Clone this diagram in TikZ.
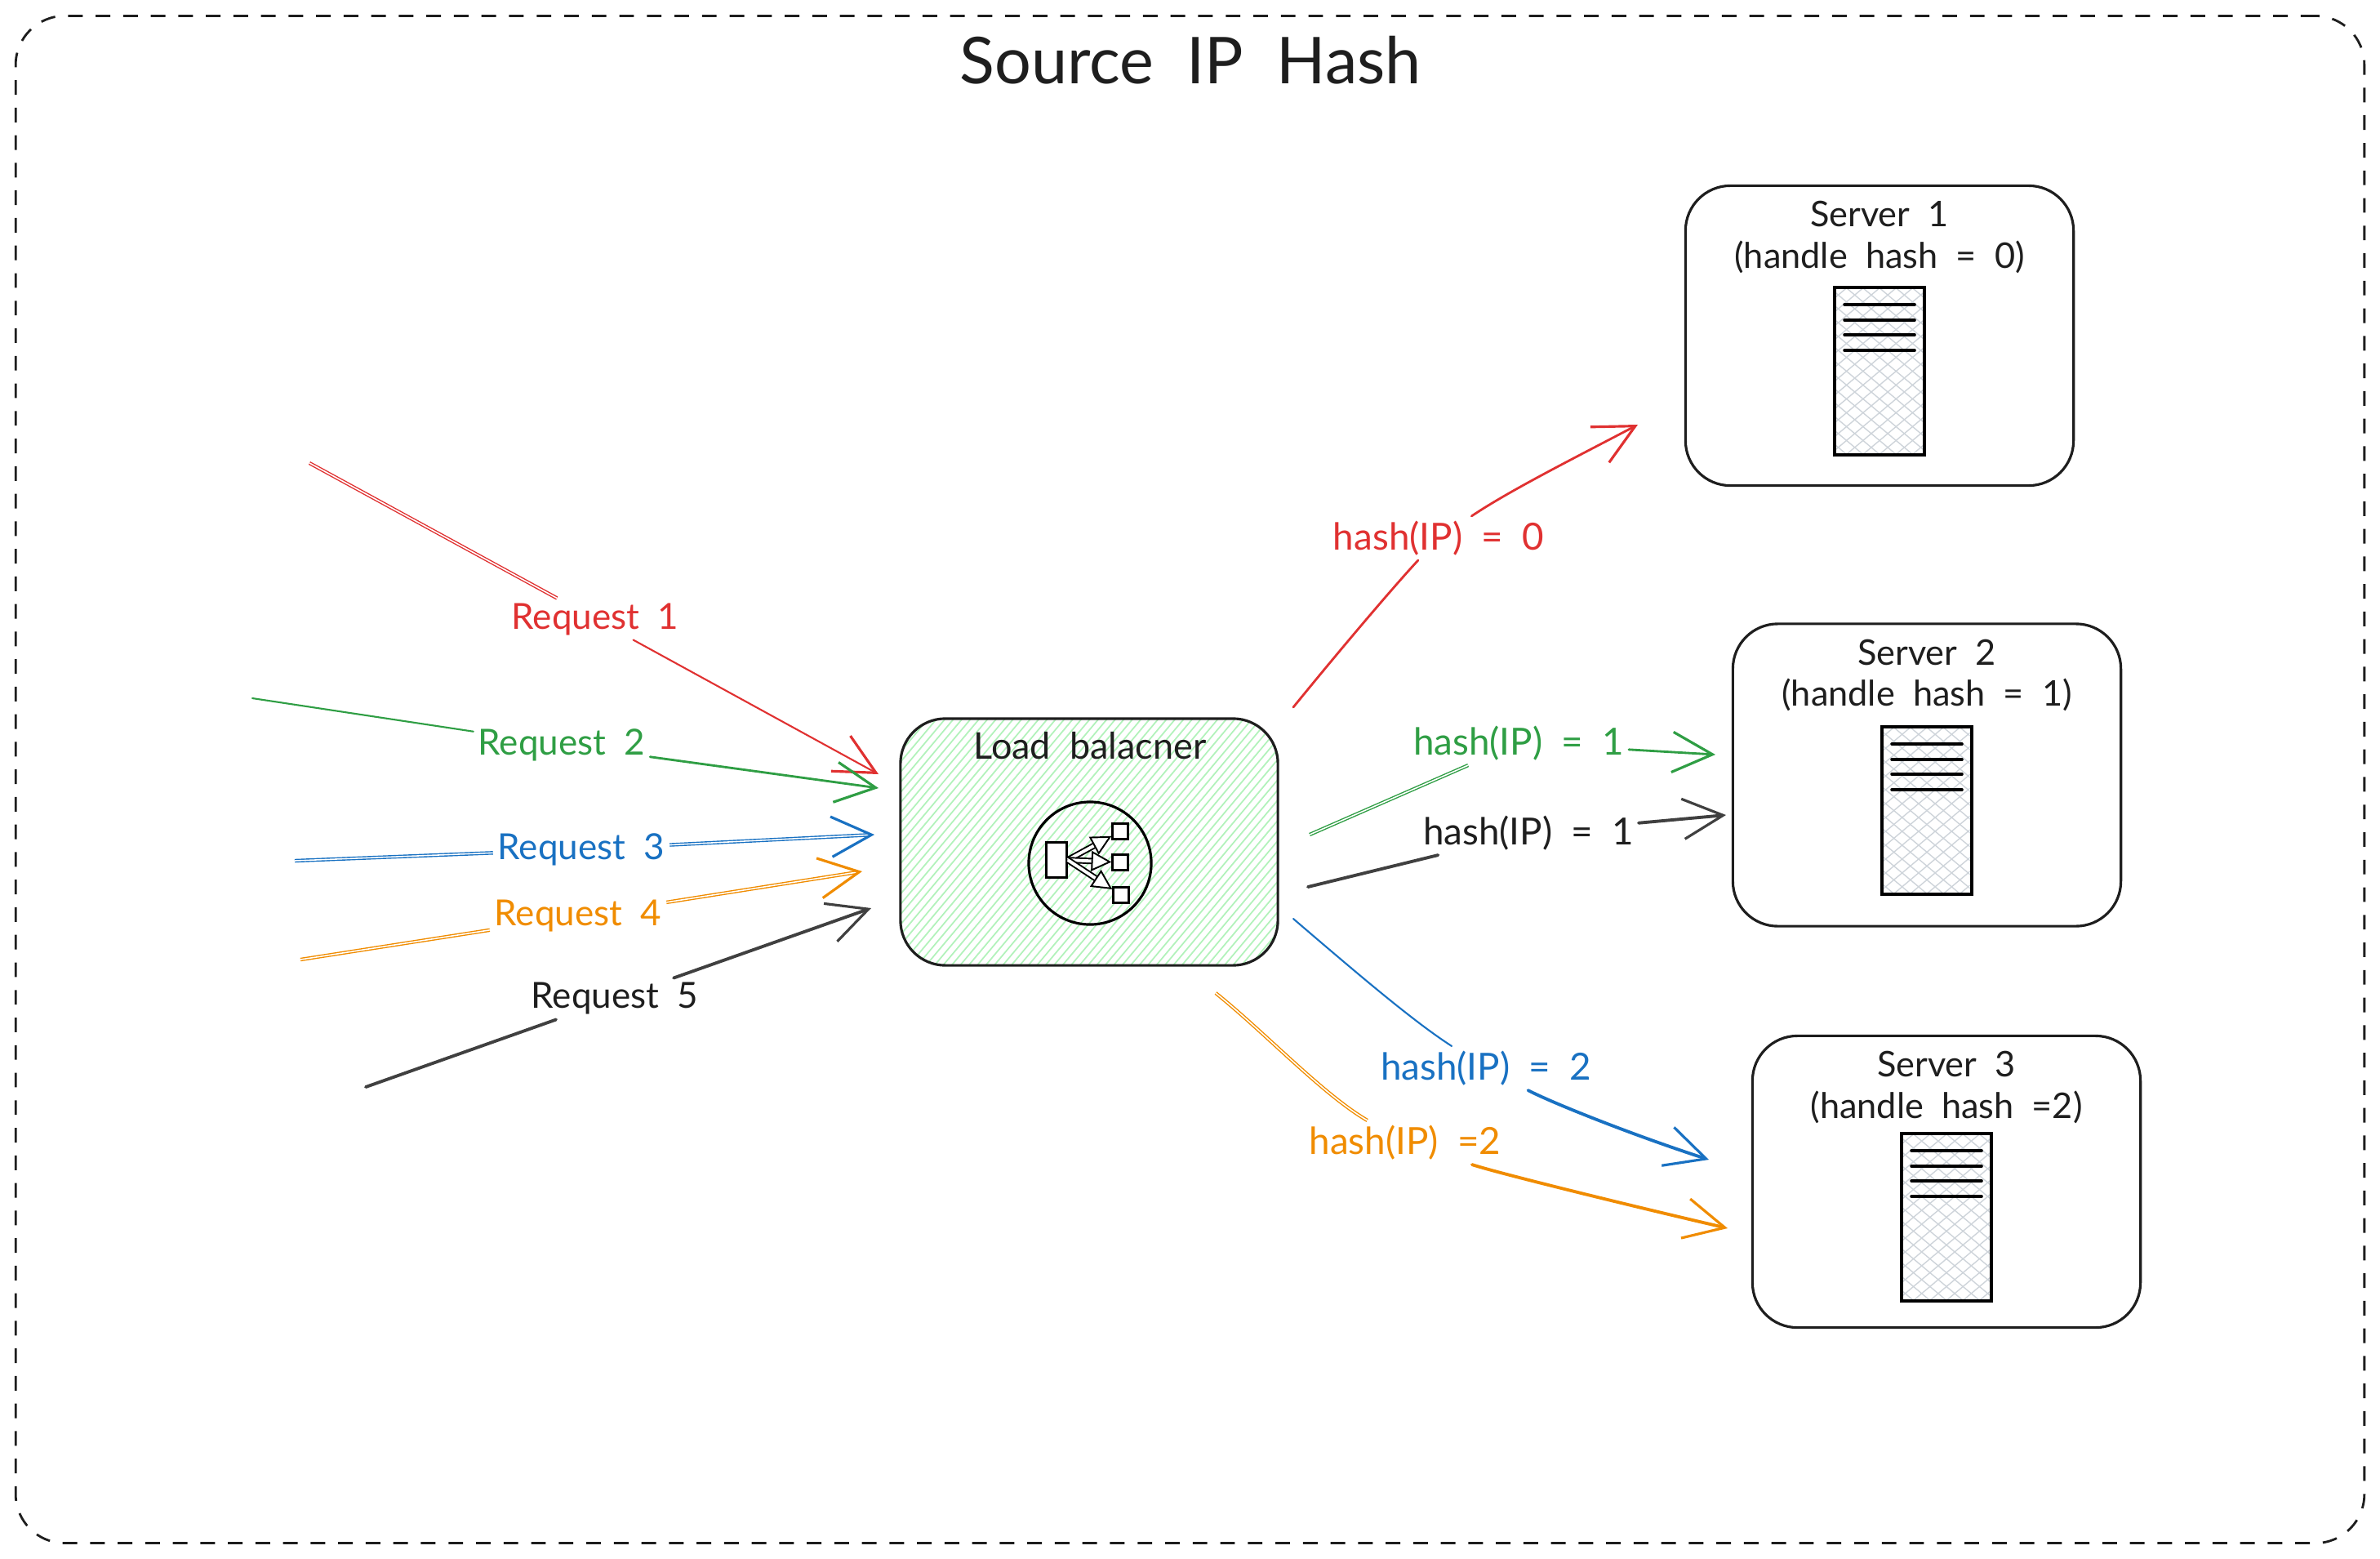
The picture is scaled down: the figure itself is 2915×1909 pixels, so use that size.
\documentclass[tikz,border=0pt]{standalone}
\usepackage{fontspec}
\setmainfont{Lato}[WordSpace=2]
\usetikzlibrary{arrows.meta}
\definecolor{inkred}{HTML}{E03131}
\definecolor{inkgreen}{HTML}{2F9E44}
\definecolor{inkblue}{HTML}{1971C2}
\definecolor{inkorange}{HTML}{F08C00}
\definecolor{inkblack}{HTML}{1E1E1E}
\definecolor{hatchgreen}{HTML}{B2F2BB}
\definecolor{hatchgrey}{HTML}{CED4DA}
% colour, line width, angle, spacing, half length
\newcommand{\hatchrow}[5]{%
  \draw[#1,line width=#2,shift={(path picture bounding box.center)}]
    ({\k*#4*sin(#3)-#5*cos(#3)},{\k*#4*cos(#3)+#5*sin(#3)}) --
    ({\k*#4*sin(#3)+#5*cos(#3)},{\k*#4*cos(#3)-#5*sin(#3)});}
\tikzset{%
  flowline/.style={line width=0.8pt,line cap=round},
  flowthin/.style={line width=0.6pt,line cap=round},
  flowheavy/.style={line width=1.1pt,line cap=round},
  flowdouble/.style={line width=0.4pt,double=white,double distance=0.45pt},
  flowtip/.style={-{Straight Barb[length=14pt,width=14pt,line width=0.9pt]}},
  flowlabel/.style={font=\fontsize{12.5}{15}\selectfont,inner sep=1.5pt,yshift=-0.03cm},
  hashlabel/.style={flowlabel,font=\fontsize{13}{15}\selectfont},
  sketchbox/.style={draw=inkblack,line width=0.9pt,rounded corners=0.55cm},
  servertext/.style={font=\fontsize{12.3}{14.3}\selectfont,align=center,text=inkblack,anchor=north,inner sep=0pt},
  rackbox/.style={draw=black,line width=1.1pt,minimum width=1.1cm,minimum height=2.05cm,
    path picture={%
      \foreach \k in {-14,...,14} {
        \hatchrow{hatchgrey}{0.4pt}{40}{13}{200}
        \hatchrow{hatchgrey}{0.4pt}{-40}{13}{200}
      }}},
  rackline/.style={black,line width=1pt,line cap=round},
  lbbox/.style={sketchbox,minimum width=4.62cm,minimum height=3.02cm,
    path picture={%
      \foreach \k in {-40,...,40} {
        \hatchrow{hatchgreen}{0.5pt}{50}{8}{350}
      }}},
  iconbox/.style={draw=black,fill=white,line width=0.7pt,inner sep=0pt},
  iconarrow/.style={draw=black,line width=0.55pt,double=white,double distance=1.1pt,
    -{Triangle[open,fill=white,length=7pt,width=7pt,line width=0.55pt]}},
}
\begin{document}
\begin{tikzpicture}[x=0.01cm,y=-0.01cm]
  \useasboundingbox (0,0) rectangle (2915,1909);
  % outer frame and title
  \node[draw=inkblack,line width=0.8pt,dash pattern=on 5.1pt off 4.5pt,rounded corners=0.6cm,
        minimum width=28.75cm,minimum height=18.69cm] (frame) at (1457.5,954.5) {};
  \node[font=\fontsize{22.5}{26}\selectfont,text=inkblack] (title) at (1458,74) {Source IP Hash};
  % load balancer
  \node[lbbox] (lb) at (1334,1031) {};
  \node[font=\fontsize{12.8}{15}\selectfont,text=inkblack] (lbtext) at (1335,913) {Load balacner};
  \node[draw=black,circle,line width=0.9pt,minimum size=1.5cm,inner sep=0pt] (lbicon) at (1335,1057) {};
  \node[iconbox,minimum width=0.25cm,minimum height=0.43cm] (lbmain) at (1294,1053) {};
  \node[iconbox,minimum size=0.19cm] (lbsqa) at (1372,1018) {};
  \node[iconbox,minimum size=0.19cm] (lbsqb) at (1372,1056) {};
  \node[iconbox,minimum size=0.19cm] (lbsqc) at (1373,1096) {};
  \draw[iconarrow] (lbmain.east) -- (lbsqa);
  \draw[iconarrow] (lbmain.east) -- (lbsqb);
  \draw[iconarrow] (lbmain.east) -- (lbsqc);
  % servers
  \foreach \srv/\cx/\cy/\srvh/\txt in {a/2302/411/3.67/{Server 1\\(handle hash = 0)},
                                       b/2360/949/3.70/{Server 2\\(handle hash = 1)},
                                       c/2384/1447/3.57/{Server 3\\(handle hash =2)}} {
    \node[sketchbox,minimum width=4.75cm,minimum height=\srvh cm] (srv\srv) at (\cx,\cy) {};
    \node[servertext] (srv\srv text) at ([yshift=-0.2cm]srv\srv.north) {\txt};
    \node[rackbox] (rack\srv) at ([yshift=-0.435cm]srv\srv.center) {};
    \foreach \dy in {23,42,60,79}
      \draw[rackline] ([xshift=-0.43cm,yshift=-\dy*0.01cm]rack\srv.north) -- ([xshift=0.43cm,yshift=-\dy*0.01cm]rack\srv.north);
  }
  % free ends of the arrows
  \coordinate (reqa) at (379,567);   \coordinate (tipa) at (1076,948);
  \coordinate (reqb) at (309,855);   \coordinate (tipb) at (1076,965);
  \coordinate (reqc) at (361,1054);  \coordinate (tipc) at (1071,1022);
  \coordinate (reqd) at (368,1175);  \coordinate (tipd) at (1056,1067);
  \coordinate (reqe) at (448,1331);  \coordinate (tipe) at (1067,1112);
  \coordinate (outa) at (1584,866);  \coordinate (enda) at (2006,520);
  \coordinate (outb) at (1604,1022); \coordinate (endb) at (2101,924);
  \coordinate (outc) at (1602,1086); \coordinate (endc) at (2114,998);
  \coordinate (outd) at (1584,1125); \coordinate (endd) at (2093,1420);
  \coordinate (oute) at (1489,1216); \coordinate (ende) at (2116,1504);
  % labels
  \node[flowlabel,text=inkred] (lreqa) at (729,755) {Request 1};
  \node[flowlabel,text=inkgreen] (lreqb) at (688,909) {Request 2};
  \node[flowlabel,text=inkblue] (lreqc) at (712,1037) {Request 3};
  \node[flowlabel,text=inkorange] (lreqd) at (708,1119) {Request 4};
  \node[flowlabel,text=inkblack] (lreqe) at (753,1220) {Request 5};
  \node[hashlabel,text=inkred] (louta) at (1762,656) {hash(IP) = 0};
  \node[hashlabel,text=inkgreen] (loutb) at (1860,907) {hash(IP) = 1};
  \node[hashlabel,text=inkblack] (loutc) at (1872,1017) {hash(IP) = 1};
  \node[hashlabel,text=inkblue] (loutd) at (1820,1305) {hash(IP) = 2};
  \node[hashlabel,text=inkorange] (loute) at (1721,1396) {hash(IP) =2};
  % requests
  \draw[flowdouble,inkred] (reqa) -- (lreqa);
  \draw[flowthin,flowtip,inkred] (lreqa) -- (tipa);
  \draw[flowthin,inkgreen] (reqb) -- (lreqb);
  \draw[flowline,flowtip,inkgreen] (lreqb) -- (tipb);
  \draw[flowdouble,inkblue] (reqc) -- (lreqc);
  \draw[flowdouble,flowtip,inkblue] (lreqc) -- (tipc);
  \draw[flowdouble,inkorange] (reqd) -- (lreqd);
  \draw[flowdouble,flowtip,inkorange] (lreqd) -- (tipd);
  \draw[flowheavy,inkblack!85] (reqe) -- (lreqe);
  \draw[flowheavy,flowtip,inkblack!85] (lreqe) -- (tipe);
  % hashed flows
  \draw[flowline,inkred] (outa) .. controls (1650,785) and (1710,715) .. (louta);
  \draw[flowline,flowtip,inkred] (louta) .. controls (1850,600) and (1930,560) .. (enda);
  \draw[flowdouble,inkgreen] (outb) -- (loutb);
  \draw[flowline,flowtip,inkgreen] (loutb) -- (endb);
  \draw[flowheavy,inkblack!85] (outc) -- (loutc);
  \draw[flowheavy,flowtip,inkblack!85] (loutc) -- (endc);
  \draw[flowthin,inkblue] (outd) .. controls (1660,1190) and (1730,1250) .. (loutd);
  \draw[flowheavy,flowtip,inkblue] (loutd) .. controls (1900,1350) and (2000,1390) .. (endd);
  \draw[flowdouble,inkorange] (oute) .. controls (1550,1265) and (1620,1340) .. (loute);
  \draw[flowheavy,flowtip,inkorange] (loute) .. controls (1830,1435) and (1970,1470) .. (ende);
\end{tikzpicture}
\end{document}
